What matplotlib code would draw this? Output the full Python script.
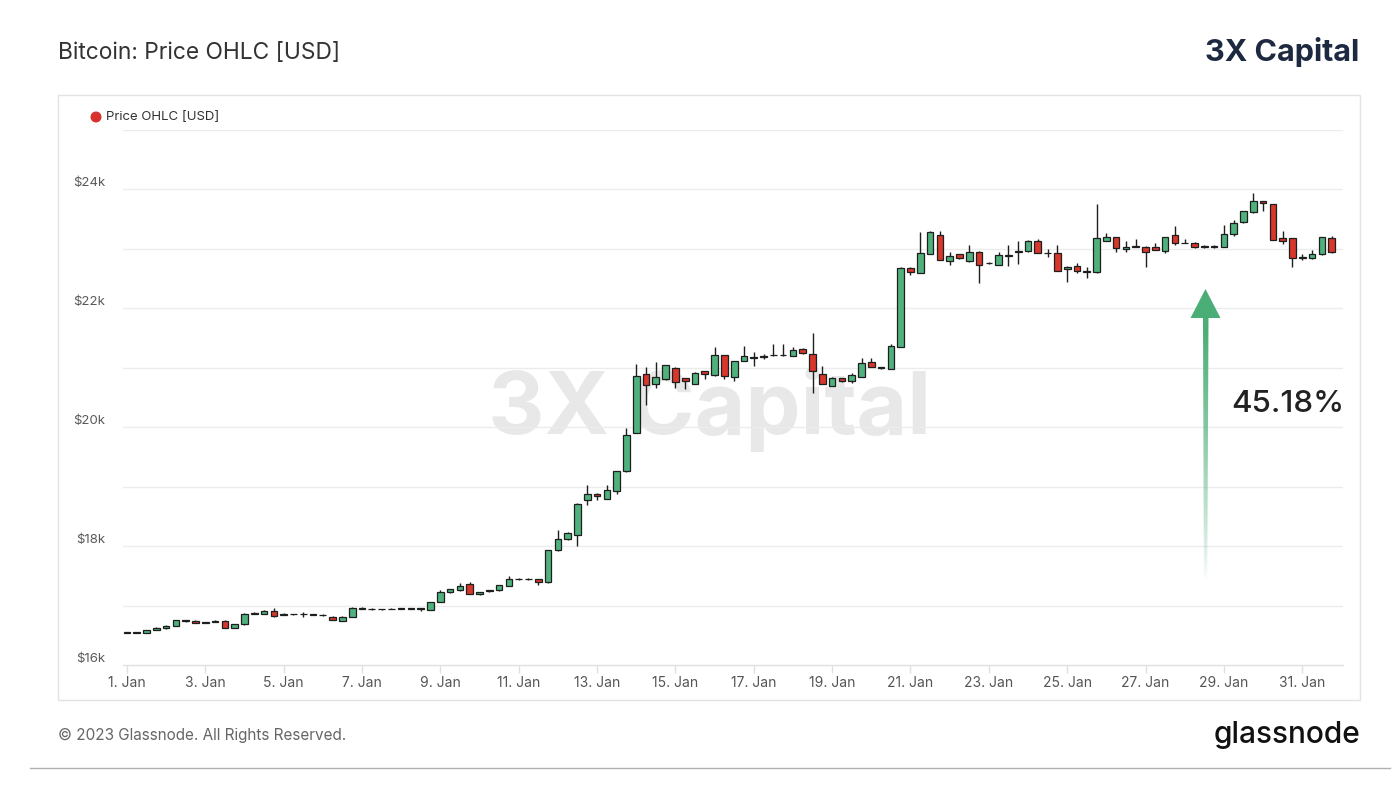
import numpy as np
import matplotlib
matplotlib.use("Agg")
import matplotlib.pyplot as plt
from matplotlib.patches import Rectangle, Polygon, Circle
from matplotlib.lines import Line2D

plt.rcParams['font.family'] = ['Inter', 'DejaVu Sans']

# ---- data: 6-hourly candles, 1 Jan 2023 00:00 .. 31 Jan 18:00 ----
opens = [16540, 16550, 16545, 16590, 16625, 16660, 16750, 16735, 16705, 16725,
         16745, 16630, 16690, 16865, 16865, 16915, 16840, 16860, 16850, 16855,
         16845, 16815, 16740, 16815, 16960, 16950, 16940, 16940, 16950, 16950,
         16950, 16930, 17065, 17220, 17255, 17355, 17200, 17245, 17255, 17335,
         17445, 17450, 17450, 17390, 17930, 18120, 18190, 18770, 18885, 18800,
         18920, 19260, 19905, 20890, 20730, 20805, 21000, 20825, 20730, 20940,
         20880, 21210, 20845, 21120, 21170, 21180, 21210, 21215, 21200, 21320,
         21230, 20900, 20695, 20830, 20780, 20845, 21105, 21000, 20985, 21355,
         22680, 22600, 22915, 23235, 22790, 22915, 22790, 22955, 22755, 22730,
         22885, 22950, 22960, 23125, 22925, 22930, 22660, 22715, 22610, 22605,
         23140, 23195, 22995, 23040, 23035, 23040, 22970, 23235, 23100, 23100,
         23035, 23040, 23035, 23250, 23445, 23615, 23800, 23755, 23175, 23175,
         22850, 22840, 22910, 23175]
highs = [16560, 16560, 16595, 16635, 16675, 16755, 16760, 16755, 16730, 16760,
         16755, 16695, 16870, 16890, 16920, 16955, 16870, 16865, 16890, 16865,
         16860, 16820, 16820, 16975, 16975, 16955, 16950, 16955, 16960, 16965,
         16955, 17065, 17260, 17285, 17375, 17400, 17235, 17265, 17350, 17490,
         17470, 17460, 17455, 17935, 18275, 18230, 18720, 19035, 18890, 19035,
         19270, 19980, 21070, 21020, 21090, 21050, 21010, 20830, 20930, 20950,
         21355, 21215, 21120, 21365, 21265, 21230, 21395, 21395, 21350, 21325,
         21580, 21030, 20840, 20835, 20910, 21170, 21170, 21005, 21400, 22700,
         22690, 23285, 23295, 23300, 22940, 22920, 23070, 22960, 22775, 22950,
         23065, 23140, 23150, 23160, 23000, 23065, 22710, 22770, 22690, 23760,
         23260, 23200, 23140, 23165, 23050, 23105, 23200, 23380, 23165, 23110,
         23060, 23070, 23410, 23490, 23640, 23940, 23805, 23760, 23305, 23180,
         22915, 22985, 23200, 23210]
lows = [16530, 16540, 16540, 16585, 16600, 16655, 16730, 16700, 16700, 16720,
        16625, 16625, 16680, 16855, 16860, 16815, 16835, 16840, 16815, 16835,
        16830, 16755, 16735, 16810, 16945, 16930, 16930, 16935, 16940, 16945,
        16905, 16925, 17060, 17215, 17250, 17190, 17180, 17220, 17250, 17330,
        17430, 17430, 17350, 17385, 17925, 18110, 18000, 18700, 18780, 18795,
        18885, 19250, 19900, 20370, 20665, 20800, 20665, 20650, 20720, 20805,
        20870, 20810, 20775, 21110, 21030, 21150, 21190, 21205, 21195, 21240,
        20580, 20725, 20690, 20765, 20740, 20840, 21015, 20980, 20980, 21350,
        22560, 22595, 22910, 22815, 22735, 22835, 22785, 22420, 22745, 22725,
        22715, 22745, 22955, 22925, 22860, 22625, 22450, 22600, 22505, 22600,
        23135, 22955, 22955, 23035, 22700, 22975, 22930, 23070, 23095, 23020,
        23015, 23020, 23030, 23210, 23440, 23610, 23645, 23150, 23080, 22700,
        22810, 22835, 22905, 22930]
closes = [16550, 16545, 16590, 16630, 16660, 16750, 16740, 16705, 16725, 16745,
          16630, 16690, 16865, 16870, 16915, 16830, 16860, 16850, 16855, 16845,
          16840, 16760, 16815, 16965, 16950, 16940, 16940, 16950, 16950, 16955,
          16950, 17060, 17220, 17280, 17335, 17195, 17225, 17255, 17345, 17445,
          17450, 17445, 17390, 17930, 18120, 18215, 18715, 18885, 18840, 18940,
          19260, 19875, 20860, 20710, 20845, 21045, 20765, 20780, 20920, 20890,
          21210, 20860, 21115, 21190, 21175, 21190, 21220, 21215, 21300, 21245,
          20945, 20730, 20835, 20770, 20875, 21085, 21020, 21000, 21365, 22680,
          22605, 22930, 23290, 22820, 22885, 22840, 22955, 22730, 22765, 22900,
          22895, 22960, 23140, 22930, 22930, 22630, 22700, 22630, 22620, 23175,
          23195, 23015, 23040, 23040, 22950, 22980, 23195, 23100, 23100, 23025,
          23040, 23045, 23250, 23430, 23635, 23800, 23770, 23155, 23140, 22840,
          22860, 22915, 23195, 22950]

day_ticks = [0, 2, 4, 6, 8, 10, 12, 14, 16, 18, 20, 22, 24, 26, 28, 30]
day_labels = ["1. Jan", "3. Jan", "5. Jan", "7. Jan", "9. Jan", "11. Jan", "13. Jan",
              "15. Jan", "17. Jan", "19. Jan", "21. Jan", "23. Jan", "25. Jan",
              "27. Jan", "29. Jan", "31. Jan"]
price_ticks = [16000, 18000, 20000, 22000, 24000]
price_labels = ["$16k", "$18k", "$20k", "$22k", "$24k"]
grid_levels = [17000, 19000, 21000, 23000, 25000]
pct_label = "45.18%"

# ---- figure ----
W, H = 1400, 806
fig = plt.figure(figsize=(W / 100, H / 100), dpi=100)
fig.patch.set_facecolor("white")

def fx(px):
    return px / W

def fy(py):
    return 1 - py / H

# overlay axes in pixel coordinates (for texts / decorations)
ov = fig.add_axes([0, 0, 1, 1], zorder=5)
ov.set_xlim(0, W)
ov.set_ylim(H, 0)
ov.axis("off")
ov.patch.set_alpha(0)

# frame box
fig.patches.append(Rectangle((fx(58), fy(700)), fx(1360) - fx(58), fy(95) - fy(700),
                             transform=fig.transFigure, fill=False,
                             edgecolor="#e3e3e3", linewidth=1.0, zorder=0))

# main axes
ax_l, ax_r, ax_t, ax_b = 123, 1343, 130, 665
ax = fig.add_axes([fx(ax_l), fy(ax_b), fx(ax_r) - fx(ax_l), fy(ax_t) - fy(ax_b)], zorder=2)
ax.patch.set_alpha(0)

x = np.arange(len(closes)) * 0.25
o = np.array(opens, float)
h = np.array(highs, float)
l = np.array(lows, float)
c = np.array(closes, float)
up = c >= o
colors = np.where(up, "#4fb27d", "#d8372c")
body_bottom = np.minimum(o, c)
body_h = np.maximum(np.abs(c - o), 6)

ax.vlines(x, l, h, color="#1e1e1e", linewidth=1.0, zorder=3)
ax.bar(x, body_h, bottom=body_bottom, width=0.17, color=colors,
       edgecolor="#1e1e1e", linewidth=0.9, zorder=4)

ax.set_xlim(-0.10, 31.04)
ax.set_ylim(16000, 25000)

for lv in price_ticks[1:] + grid_levels:
    ax.axhline(lv, color="#ececec", linewidth=1.0, zorder=1)

for s in ["top", "right", "left"]:
    ax.spines[s].set_visible(False)
ax.spines["bottom"].set_color("#e0e0e0")
ax.spines["bottom"].set_linewidth(1.0)

ax.set_xticks(day_ticks)
ax.set_xticklabels(day_labels)
ax.tick_params(axis="x", length=6, width=1, color="#e0e0e0", pad=2,
               labelsize=10, labelcolor="#555555")
ax.set_yticks(price_ticks)
ax.set_yticklabels(price_labels)
ax.tick_params(axis="y", length=0, pad=13, labelsize=9.5, labelcolor="#5a5a5a")
for t in ax.get_yticklabels():
    t.set_verticalalignment("bottom")

# watermark (behind candles)
ax.text(710, 410, "3X Capital", transform=ov.transData, ha="center", va="center",
        fontsize=63, fontweight="bold", color="#e8e8e8", zorder=0)

# titles and logos
ov.text(58, 53, "Bitcoin: Price OHLC [USD]", ha="left", va="center",
        fontsize=16.4, color="#333333")
ov.text(1359, 52, "3X Capital", ha="right", va="center", fontsize=22,
        fontweight="bold", color="#1d2940")

# legend
ov.add_patch(Circle((96, 117), 4.8, color="#d8302a"))
ov.text(106, 117, "Price OHLC [USD]", ha="left", va="center", fontsize=9.5, color="#333333")

# footer
ov.text(58, 735, "\u00a9 2023 Glassnode. All Rights Reserved.", ha="left", va="center",
        fontsize=11, color="#666666")
ov.text(1360, 735, "glassnode", ha="right", va="center", fontsize=21.5,
        fontweight="medium", color="#111111")
ov.add_line(Line2D([30, 1390], [768, 768], color="#b0b0b0", linewidth=1.0))

# gradient arrow
arrow_poly = Polygon([(1203.0, 318), (1190.5, 318), (1205.5, 289), (1220.5, 318),
                      (1208.5, 318), (1207.3, 580), (1203.9, 580)], closed=True,
                     transform=ov.transData, facecolor="none", edgecolor="none")
ov.add_patch(arrow_poly)
ny = 300
yy = np.linspace(289, 580, ny)
alpha = np.clip((580 - yy) / (580 - 330), 0, 1) ** 0.8
grad = np.zeros((ny, 2, 4))
grad[..., 0] = 0x4a / 255
grad[..., 1] = 0xae / 255
grad[..., 2] = 0x76 / 255
grad[..., 3] = alpha[:, None]
im = ov.imshow(grad, extent=(1188, 1223, 580, 289), origin="upper",
               aspect="auto", interpolation="bilinear", zorder=6)
im.set_clip_path(arrow_poly)
ov.set_xlim(0, W)
ov.set_ylim(H, 0)

ov.text(1231, 404, pct_label, ha="left", va="center", fontsize=22.5,
        fontweight="medium", color="#222222")

fig.savefig("out.png", dpi=100, facecolor="white")
